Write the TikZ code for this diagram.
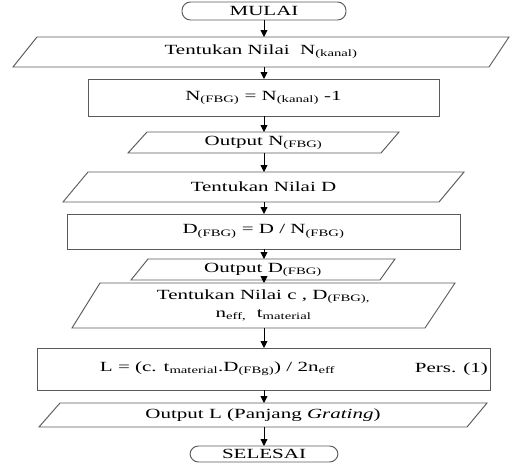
\documentclass[tikz,border=0pt]{standalone}
\usepackage{fontspec}
\setmainfont{Liberation Serif}[FakeStretch=1.5]
\usetikzlibrary{arrows.meta}
\definecolor{edge}{HTML}{5A5A5A}
\begin{document}
\begin{tikzpicture}[x=1pt,y=-1pt,
  font=\fontsize{14}{18}\selectfont,
  shp/.style={draw=edge, line width=0.95pt},
  frame/.style 2 args={minimum width=#1, minimum height=#2, inner sep=0pt, outer sep=0pt, align=center},
  rbox/.style={shp},
  term/.style={shp, rounded corners=8.5pt},
  arr/.style={draw=black, line width=0.9pt, -{Triangle[length=7pt,width=7pt]}}]
\useasboundingbox (0,0) rectangle (512,464);

\node[term, frame={164}{18}] (start) at (264,11) {MULAI};

\node[frame={496}{30}] (p1) at (261,52) {Tentukan Nilai\ \ N\textsubscript{(kanal)}};
\draw[shp] ([xshift=24pt]p1.north west) -- (p1.north east) -- ([xshift=-20pt]p1.south east) -- (p1.south west) -- cycle;

\node[rbox, frame={351}{37}] (r2) at (263.5,97.5) {N\textsubscript{(FBG)} = N\textsubscript{(kanal)} -1};

\node[frame={271}{21}] (p3) at (263.5,142.5) {Output N\textsubscript{(FBG)}};
\draw[shp] ([xshift=19pt]p3.north west) -- (p3.north east) -- ([xshift=-18pt]p3.south east) -- (p3.south west) -- cycle;

\node[frame={401}{30}] (p4) at (263.5,187) {Tentukan Nilai D};
\draw[shp] ([xshift=25pt]p4.north west) -- (p4.north east) -- ([xshift=-25pt]p4.south east) -- (p4.south west) -- cycle;

\node[rbox, frame={393}{35}] (r5) at (263.5,231.5) {D\textsubscript{(FBG)} = D / N\textsubscript{(FBG)}};

\node[frame={264}{21}] (p6) at (263,269.5) {Output D\textsubscript{(FBG)}};
\draw[shp] ([xshift=17pt]p6.north west) -- (p6.north east) -- ([xshift=-15pt]p6.south east) -- (p6.south west) -- cycle;

\node[frame={383}{45}] (p7) at (263.5,305.5) {Tentukan Nilai c , D\textsubscript{(FBG),}\\ n\textsubscript{eff,}\ \ t\textsubscript{material}};
\draw[shp] ([xshift=28pt]p7.north west) -- (p7.north east) -- ([xshift=-30pt]p7.south east) -- (p7.south west) -- cycle;

\node[rbox, frame={453}{42}] (r8) at (263.5,369) {};
\node (f8) at (217.5,369) {L = (c. t\textsubscript{material}.D\textsubscript{(FBg)}) / 2n\textsubscript{eff}};
\node[anchor=east, inner sep=2pt] (pers) at (r8.east) {Pers. (1)};

\node[frame={448}{24}] (p9) at (263,415) {Output L (Panjang \textit{Grating})};
\draw[shp] ([xshift=21pt]p9.north west) -- (p9.north east) -- ([xshift=-20pt]p9.south east) -- (p9.south west) -- cycle;

\node[term, frame={148}{16}] (end) at (264,454) {SELESAI};

\foreach \a/\b in {start/p1, p1/r2, r2/p3, p3/p4, p4/r5, r5/p6, p6/p7, p7/r8, r8/p9, p9/end}
  \draw[arr] (\a.south -| start) -- (\b.north -| start);
\end{tikzpicture}
\end{document}
